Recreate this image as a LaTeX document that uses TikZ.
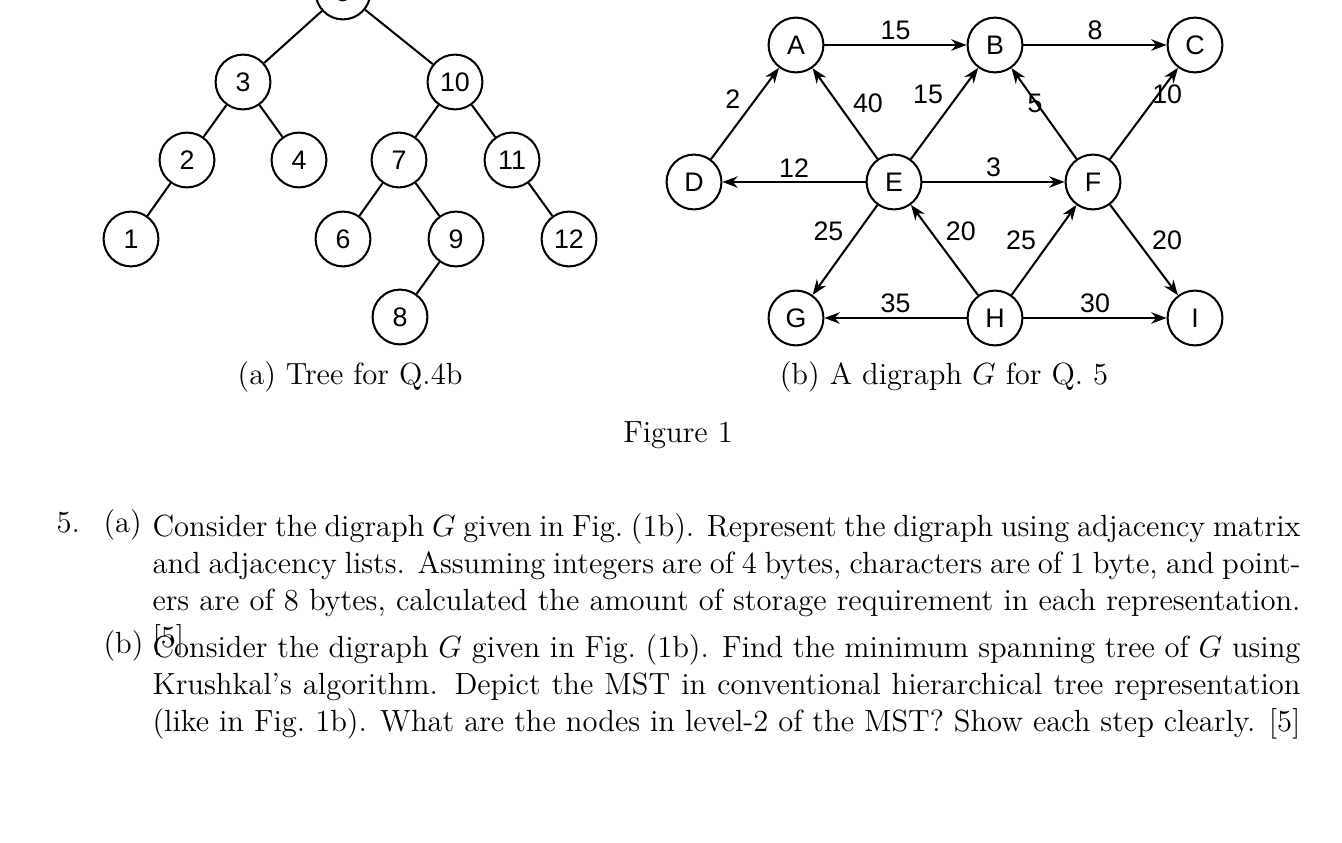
\documentclass[tikz,border=0pt]{standalone}
\usepackage{fontspec}
\newfontfamily\arialf{Liberation Sans}
\usetikzlibrary{arrows.meta}
\begin{document}
\begin{tikzpicture}[x=0.392pt,y=-0.392pt,
  vert/.style={circle,draw,line width=0.8pt,minimum size=21.5pt,inner sep=0pt,font=\arialf\fontsize{10.5}{12}\selectfont},
  tedge/.style={line width=0.8pt},
  arc/.style={line width=0.8pt,-{Stealth[length=6pt,width=4.5pt]}},
  wl/.style={font=\arialf\fontsize{10.5}{12}\selectfont,inner sep=1.5pt},
  captxt/.style={font=\fontsize{12}{14.5}\selectfont,inner sep=0pt,anchor=base}]
\useasboundingbox (0,0) rectangle (1342,843);
\begin{scope}
\clip (0,0) rectangle (1342,843);
% tree
\node[vert] (t5) at (343,-8) {5};
\node[vert] (t3) at (243,82) {3};
\node[vert] (t10) at (455,82) {10};
\node[vert] (t2) at (187,160) {2};
\node[vert] (t4) at (299,160) {4};
\node[vert] (t7) at (399,160) {7};
\node[vert] (t11) at (512,160) {11};
\node[vert] (t1) at (131,239) {1};
\node[vert] (t6) at (343,239) {6};
\node[vert] (t9) at (456,239) {9};
\node[vert] (t12) at (569,239) {12};
\node[vert] (t8) at (400,317) {8};
\draw[tedge] (t5)--(t3) (t5)--(t10) (t3)--(t2) (t3)--(t4) (t10)--(t7) (t10)--(t11)
  (t2)--(t1) (t7)--(t6) (t7)--(t9) (t11)--(t12) (t9)--(t8);
\end{scope}
% digraph
\node[vert] (A) at (796,45) {A};
\node[vert] (B) at (995,45) {B};
\node[vert] (C) at (1195,45) {C};
\node[vert] (D) at (694,182) {D};
\node[vert] (E) at (894,182) {E};
\node[vert] (F) at (1093,182) {F};
\node[vert] (G) at (796,318) {G};
\node[vert] (H) at (995,318) {H};
\node[vert] (I) at (1195,318) {I};
\draw[arc] (A) -- node[wl,above] {15} (B);
\draw[arc] (B) -- node[wl,above] {8} (C);
\draw[arc] (D) -- node[wl,above left] {2} (A);
\draw[arc] (E) -- node[wl,above right,pos=0.45] {40} (A);
\draw[arc] (E) -- node[wl,above left,pos=0.55] {15} (B);
\draw[arc] (F) -- node[wl,above left,pos=0.45] {5} (B);
\draw[arc] (F) -- node[wl,above right,pos=0.55] {10} (C);
\draw[arc] (E) -- node[wl,above] {12} (D);
\draw[arc] (E) -- node[wl,above] {3} (F);
\draw[arc] (E) -- node[wl,above left,pos=0.45] {25} (G);
\draw[arc] (H) -- node[wl,above right,pos=0.55] {20} (E);
\draw[arc] (H) -- node[wl,above left,pos=0.45] {25} (F);
\draw[arc] (F) -- node[wl,above right,pos=0.55] {20} (I);
\draw[arc] (H) -- node[wl,above] {35} (G);
\draw[arc] (H) -- node[wl,above] {30} (I);
% captions
\node[captxt] (capa) at (350,384) {(a) Tree for Q.4b};
\node[captxt] (capb) at (944,384) {(b) A digraph $G$ for Q.~5};
\node[captxt] (fig) at (678,442) {Figure 1};
% questions
\node[captxt,anchor=base west] (q5) at (56,532) {5.};
\node[captxt,anchor=base west] (qa) at (103,532) {(a)};
\node[captxt,anchor=base west] (qb) at (103,653) {(b)};
\node[captxt,anchor=north west,text width=450pt,align=justify] (ta) at (152,513) {Consider the digraph $G$ given in Fig.~(1b). Represent the digraph using adjacency matrix and adjacency lists. Assuming integers are of 4 bytes, characters are of 1 byte, and pointers are of 8 bytes, calculated the amount of storage requirement in each representation.\hfill[5]};
\node[captxt,anchor=north west,text width=450pt,align=justify] (tb) at (152,634) {Consider the digraph $G$ given in Fig.~(1b). Find the minimum spanning tree of $G$ using Krushkal's algorithm. Depict the MST in conventional hierarchical tree representation (like in Fig.~1b). What are the nodes in level-2 of the MST? Show each step clearly.\hfill[5]};
\end{tikzpicture}
\end{document}
